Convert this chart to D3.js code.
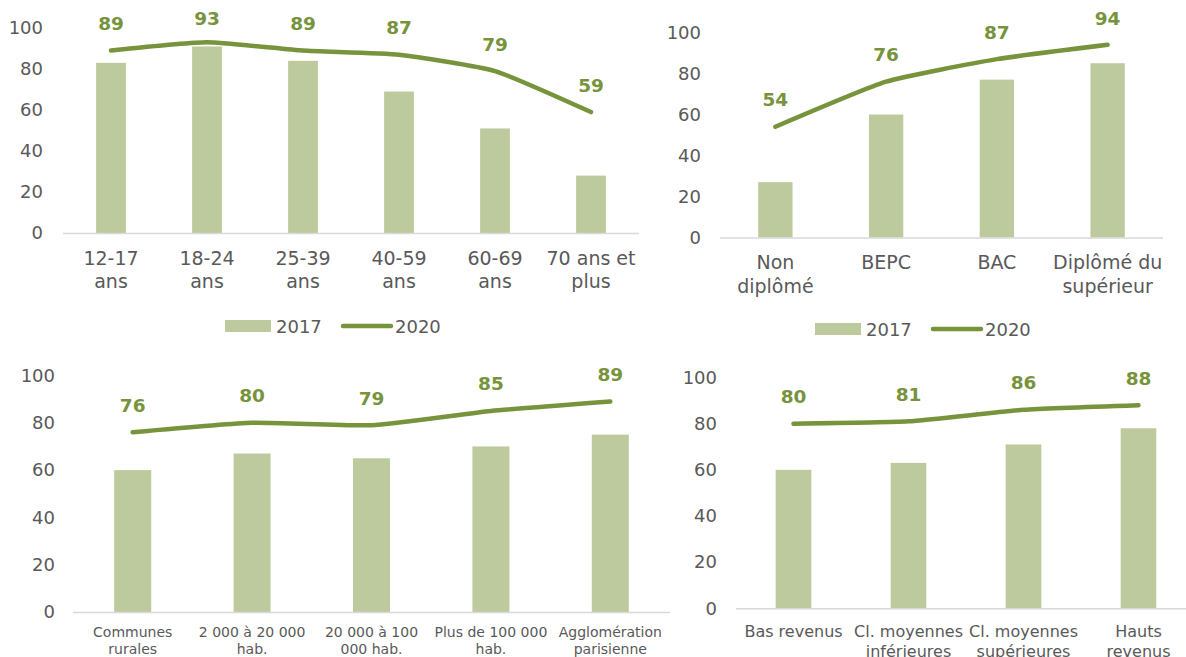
<!DOCTYPE html>
<html>
<head>
<meta charset="utf-8">
<script src="https://cdn.jsdelivr.net/npm/d3@7"></script>
<style>
  html, body { margin: 0; padding: 0; background: #ffffff; }
  svg { display: block; }
  text { font-family: "DejaVu Sans", Verdana, sans-serif; }
</style>
</head>
<body>
<svg id="chart" width="1186" height="657"></svg>
<script>
// ---------------- DATA ----------------
const seriesNames = ["2017", "2020"];
const yTicks = [0, 20, 40, 60, 80, 100];

const ageCategories = ["12-17\nans", "18-24\nans", "25-39\nans", "40-59\nans", "60-69\nans", "70 ans et\nplus"];
const age2017 = [83, 91, 84, 69, 51, 28];
const age2020 = [89, 93, 89, 87, 79, 59];

const eduCategories = ["Non\ndiplômé", "BEPC", "BAC", "Diplômé du\nsupérieur"];
const edu2017 = [27, 60, 77, 85];
const edu2020 = [54, 76, 87, 94];

const cityCategories = ["Communes\nrurales", "2 000 à 20 000\nhab.", "20 000 à 100\n000 hab.", "Plus de 100 000\nhab.", "Agglomération\nparisienne"];
const city2017 = [60, 67, 65, 70, 75];
const city2020 = [76, 80, 79, 85, 89];

const incomeCategories = ["Bas revenus", "Cl. moyennes\ninférieures", "Cl. moyennes\nsupérieures", "Hauts\nrevenus"];
const income2017 = [60, 63, 71, 78];
const income2020 = [80, 81, 86, 88];

// ---------------- STYLE ----------------
const BAR_COLOR = "#BDCA9E";
const LINE_COLOR = "#77933C";
const TEXT_COLOR = "#595959";
const AXIS_COLOR = "#D9D9D9";

const svg = d3.select("#chart");
svg.append("rect").attr("width", 1186).attr("height", 657).attr("fill", "#fff");

function panel(cfg) {
  const { cats, bars, line } = cfg;
  const g = svg.append("g");
  const idx = cats.map((d, i) => i);
  const x = d3.scaleBand().domain(idx).range([cfg.x0, cfg.x1])
    .paddingInner(0.69).paddingOuter(0.345);
  const y = d3.scaleLinear().domain([0, 100]).range([cfg.yZero, cfg.y100]);

  // y axis (labels only)
  const ya = g.append("g").attr("transform", `translate(${cfg.x0},0)`)
    .call(d3.axisLeft(y).tickValues(yTicks).tickSize(0).tickPadding(cfg.x0 - cfg.yLabelRight));
  ya.select(".domain").remove();
  ya.selectAll("text").attr("fill", TEXT_COLOR).style("font-size", cfg.yFont + "px")
    .style("font-family", "'DejaVu Sans', Verdana, sans-serif");

  // bars
  g.selectAll("rect.bar").data(bars).join("rect").attr("class", "bar")
    .attr("x", (d, i) => x(i)).attr("width", x.bandwidth())
    .attr("y", d => y(d)).attr("height", d => y(0) - y(d))
    .attr("fill", BAR_COLOR);

  // x axis (ticks are already centred on each band by d3.axisBottom)
  const xa = g.append("g").attr("transform", `translate(0,${cfg.yZero})`)
    .call(d3.axisBottom(x).tickSize(0).tickSizeOuter(0).tickFormat(() => ""));
  xa.select(".domain").attr("stroke", AXIS_COLOR).attr("stroke-width", 1.6)
    .attr("d", `M${cfg.x0},0.5H${cfg.x1}`);
  xa.selectAll(".tick text").remove();
  xa.selectAll(".tick").each(function (d) {
    const t = d3.select(this).append("text")
      .attr("text-anchor", "middle").attr("fill", TEXT_COLOR)
      .style("font-size", cfg.xFont + "px")
      .style("font-family", "'DejaVu Sans', Verdana, sans-serif");
    cats[d].split("\n").forEach((s, k) => {
      t.append("tspan").attr("x", 0).attr("y", cfg.tickY1 - cfg.yZero + k * cfg.tickGap)
        .attr("dominant-baseline", "central").text(s);
    });
  });

  // line
  const cx = i => x(i) + x.bandwidth() / 2;
  const lineGen = d3.line().x((d, i) => cx(i)).y(d => y(d)).curve(d3.curveCardinal.tension(0.5));
  g.append("path").datum(line).attr("d", lineGen)
    .attr("fill", "none").attr("stroke", LINE_COLOR).attr("stroke-width", 4.5)
    .attr("stroke-linecap", "round").attr("stroke-linejoin", "round");

  // data labels
  g.selectAll("text.lab").data(line).join("text").attr("class", "lab")
    .attr("x", (d, i) => cx(i))
    .attr("y", d => Math.max(y(d) - 27, cfg.labelMinY))
    .attr("text-anchor", "middle").attr("dominant-baseline", "central")
    .attr("fill", LINE_COLOR).style("font-weight", "bold").style("font-size", "18.5px")
    .text(d => d);

  // legend
  if (cfg.legend) {
    const L = cfg.legend;
    const lg = g.append("g");
    lg.append("rect").attr("x", L.x).attr("y", L.y - 6).attr("width", 46).attr("height", 12).attr("fill", BAR_COLOR);
    lg.append("text").attr("x", L.x + 51).attr("y", L.y).attr("dominant-baseline", "central")
      .attr("fill", TEXT_COLOR).style("font-size", "18px").text(seriesNames[0]);
    lg.append("line").attr("x1", L.x + 118).attr("x2", L.x + 166).attr("y1", L.y).attr("y2", L.y)
      .attr("stroke", LINE_COLOR).attr("stroke-width", 4.5).attr("stroke-linecap", "round");
    lg.append("text").attr("x", L.x + 170).attr("y", L.y).attr("dominant-baseline", "central")
      .attr("fill", TEXT_COLOR).style("font-size", "18px").text(seriesNames[1]);
  }
}

panel({ cats: ageCategories, bars: age2017, line: age2020,
  x0: 63, x1: 639, yZero: 233, y100: 28, yLabelRight: 43, yFont: 18, xFont: 19,
  tickY1: 258, tickGap: 23, labelMinY: 18, legend: { x: 225, y: 326 } });

panel({ cats: eduCategories, bars: edu2017, line: edu2020,
  x0: 720, x1: 1163, yZero: 237.5, y100: 32.5, yLabelRight: 701, yFont: 18, xFont: 19,
  tickY1: 262, tickGap: 24, labelMinY: 18, legend: { x: 815, y: 329 } });

panel({ cats: cityCategories, bars: city2017, line: city2020,
  x0: 73, x1: 670, yZero: 612, y100: 375.5, yLabelRight: 55, yFont: 18, xFont: 14,
  tickY1: 632, tickGap: 17, labelMinY: 360 });

panel({ cats: incomeCategories, bars: income2017, line: income2020,
  x0: 736, x1: 1196, yZero: 608.3, y100: 377.5, yLabelRight: 717, yFont: 18, xFont: 16,
  tickY1: 632, tickGap: 20, labelMinY: 360 });
</script>
</body>
</html>
